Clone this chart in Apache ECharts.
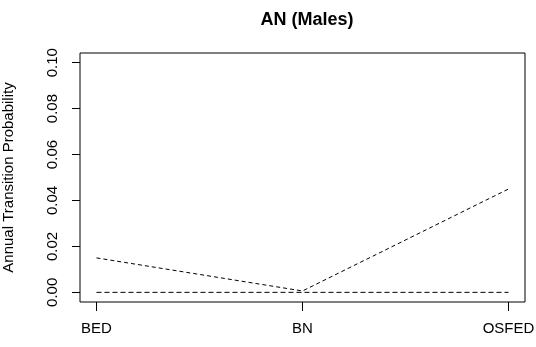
<!DOCTYPE html>
<html>
<head>
<meta charset="utf-8">
<script src="https://cdn.jsdelivr.net/npm/echarts@6/dist/echarts.min.js"></script>
<style>html,body{margin:0;padding:0;background:#fff;}#c{width:536px;height:347px;}</style>
</head>
<body>
<div id="c"></div>
<script>
var categories = ['BED', 'BN', 'OSFED'];
var seriesZero = [0, 0, 0];
var seriesMain = [0.015, 0.0006, 0.045];
var yTicks = [0, 0.02, 0.04, 0.06, 0.08, 0.10];

var xPos = categories.map(function (c, i) { return i + 1; });
function pairs(vals) { return vals.map(function (v, i) { return [xPos[i], v]; }); }

var FONT = 'Liberation Sans, Arial, sans-serif';
var chart = echarts.init(document.getElementById('c'), null, { renderer: 'canvas' });
chart.setOption({
  animation: false,
  backgroundColor: '#fff',
  title: {
    text: 'AN (Males)',
    left: 302, top: 6, textAlign: 'center',
    textStyle: { fontFamily: FONT, fontSize: 18, fontWeight: 'bold', color: '#000' }
  },
  grid: {
    left: 80, right: 11, top: 53, bottom: 45,
    outerBoundsMode: 'none', containLabel: false,
    show: true, borderColor: '#000', borderWidth: 1, backgroundColor: 'transparent'
  },
  xAxis: {
    type: 'value', min: 0.92, max: 3.08,
    axisLine: { show: false, onZero: false },
    splitLine: { show: false },
    axisTick: { show: true, inside: false, length: 9, lineStyle: { color: '#000' }, customValues: xPos },
    axisLabel: {
      customValues: xPos, margin: 19,
      fontFamily: FONT, fontSize: 15, color: '#000',
      formatter: function (v) { return categories[Math.round(v) - 1] || ''; }
    }
  },
  yAxis: {
    type: 'value', min: -0.0042, max: 0.1042,
    name: 'Annual Transition Probability', nameLocation: 'middle', nameGap: 64, nameRotate: 90,
    nameTextStyle: { fontFamily: FONT, fontSize: 15, color: '#000' },
    axisLine: { show: false, onZero: false },
    splitLine: { show: false },
    axisTick: { show: true, inside: false, length: 8, lineStyle: { color: '#000' }, customValues: yTicks },
    axisLabel: {
      customValues: yTicks, rotate: 90, margin: 20,
      fontFamily: FONT, fontSize: 15, color: '#000',
      formatter: function (v) { return v.toFixed(2); }
    }
  },
  series: [
    { type: 'line', data: pairs(seriesZero), symbol: 'none', lineStyle: { color: '#000', width: 1, type: [5, 3] } },
    { type: 'line', data: pairs(seriesMain), symbol: 'none', lineStyle: { color: '#000', width: 1, type: [4, 3] } }
  ]
});
</script>
</body>
</html>
